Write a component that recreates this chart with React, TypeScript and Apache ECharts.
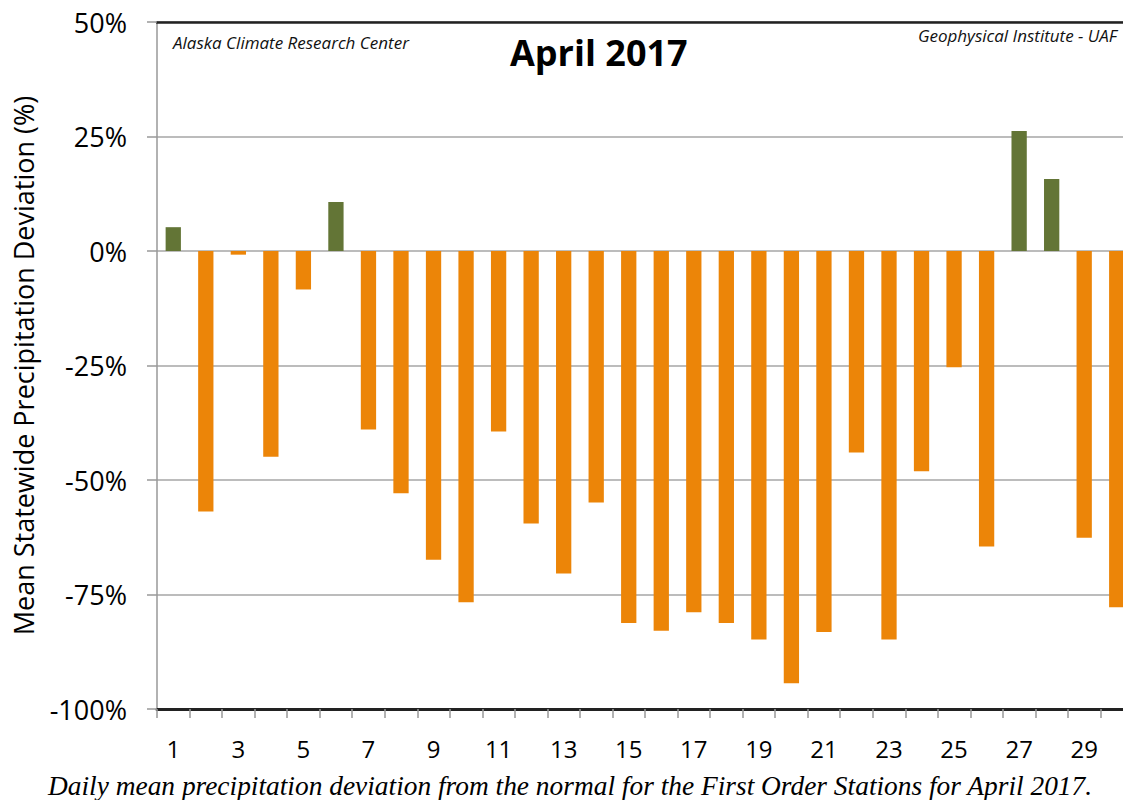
import React, { useEffect, useRef } from "react";
import * as echarts from "echarts";

const days: string[] = Array.from({ length: 30 }, (_, i) => String(i + 1));
const deviation: number[] = [
  5.2, -56.9, -0.8, -44.9, -8.4, 10.7, -39.0, -52.9, -67.4, -76.7,
  -39.4, -59.5, -70.4, -54.9, -81.2, -82.9, -78.9, -81.2, -84.8, -94.4,
  -83.2, -44.0, -84.8, -48.1, -25.4, -64.5, 26.2, 15.7, -62.6, -77.8,
];
const yTicks = { min: -100, max: 50, interval: 25 };

const titleText = "April 2017";
const leftNote = "Alaska Climate Research Center";
const rightNote = "Geophysical Institute - UAF";
const caption =
  "Daily mean precipitation deviation from the normal for the First Order Stations for April 2017.";
const yName = "Mean Statewide Precipitation Deviation (%)";

export default function App() {
  const ref = useRef<HTMLDivElement>(null);
  useEffect(() => {
    if (!ref.current) return;
    const chart = echarts.init(ref.current, undefined, { renderer: "svg" });
    const sans = "Open Sans";
    chart.setOption({
      animation: false,
      backgroundColor: "#ffffff",
      grid: { left: 157, top: 22, bottom: 91, right: 0, containLabel: false },
      xAxis: [
        {
          type: "category",
          data: days,
          position: "bottom",
          boundaryGap: true,
          axisLine: { show: true, onZero: false, lineStyle: { color: "#222", width: 3 } },
          axisTick: { show: true, interval: 0, length: 9, inside: false, lineStyle: { color: "#999", width: 1.5 } },
          axisLabel: {
            interval: 1,
            margin: 27,
            fontSize: 24,
            fontFamily: sans,
            color: "#000",
          },
          splitLine: { show: false },
        },
        {
          type: "category",
          data: days,
          position: "top",
          axisLine: { show: true, onZero: false, lineStyle: { color: "#222", width: 2.5 } },
          axisTick: { show: false },
          axisLabel: { show: false },
        },
      ],
      yAxis: {
        type: "value",
        min: yTicks.min,
        max: yTicks.max,
        interval: yTicks.interval,
        name: yName,
        nameLocation: "middle",
        nameGap: 120,
        nameTextStyle: { fontSize: 27, fontFamily: sans, color: "#000" },
        axisLine: { show: true, lineStyle: { color: "#999", width: 1.5 } },
        axisTick: { show: true, length: 10, lineStyle: { color: "#999", width: 1.5 } },
        axisLabel: {
          margin: 30,
          fontSize: 27,
          fontFamily: sans,
          color: "#000",
          formatter: (v: number) => `${v}%`,
        },
        splitLine: { show: true, lineStyle: { color: "#a6a6a6", width: 1.5 } },
      },
      series: [
        {
          type: "bar",
          data: deviation,
          barWidth: "47%",
          itemStyle: {
            color: (p: any) => (p.value >= 0 ? "#637536" : "#ec8508"),
          },
        },
      ],
      graphic: [
        {
          type: "text",
          left: 510,
          top: 34,
          style: {
            text: titleText,
            font: `bold 36px ${sans}`,
            fill: "#000",
          },
        },
        {
          type: "text",
          left: 173,
          top: 34,
          style: {
            text: leftNote,
            font: `italic 17px ${sans}`,
            fill: "#111",
          },
        },
        {
          type: "text",
          right: 16,
          top: 27,
          style: {
            text: rightNote,
            font: `italic 17px ${sans}`,
            fill: "#111",
          },
        },
        {
          type: "text",
          left: 48,
          top: 772,
          style: {
            text: caption,
            font: `italic 27.4px 'Liberation Serif'`,
            fill: "#000",
          },
        },
      ],
    });
    return () => chart.dispose();
  }, []);
  return (
    <div style={{ position: "fixed", left: 0, top: 0, width: 1123, height: 800, overflow: "hidden" }}>
      <div ref={ref} style={{ width: 1133, height: 800 }} />
    </div>
  );
}
